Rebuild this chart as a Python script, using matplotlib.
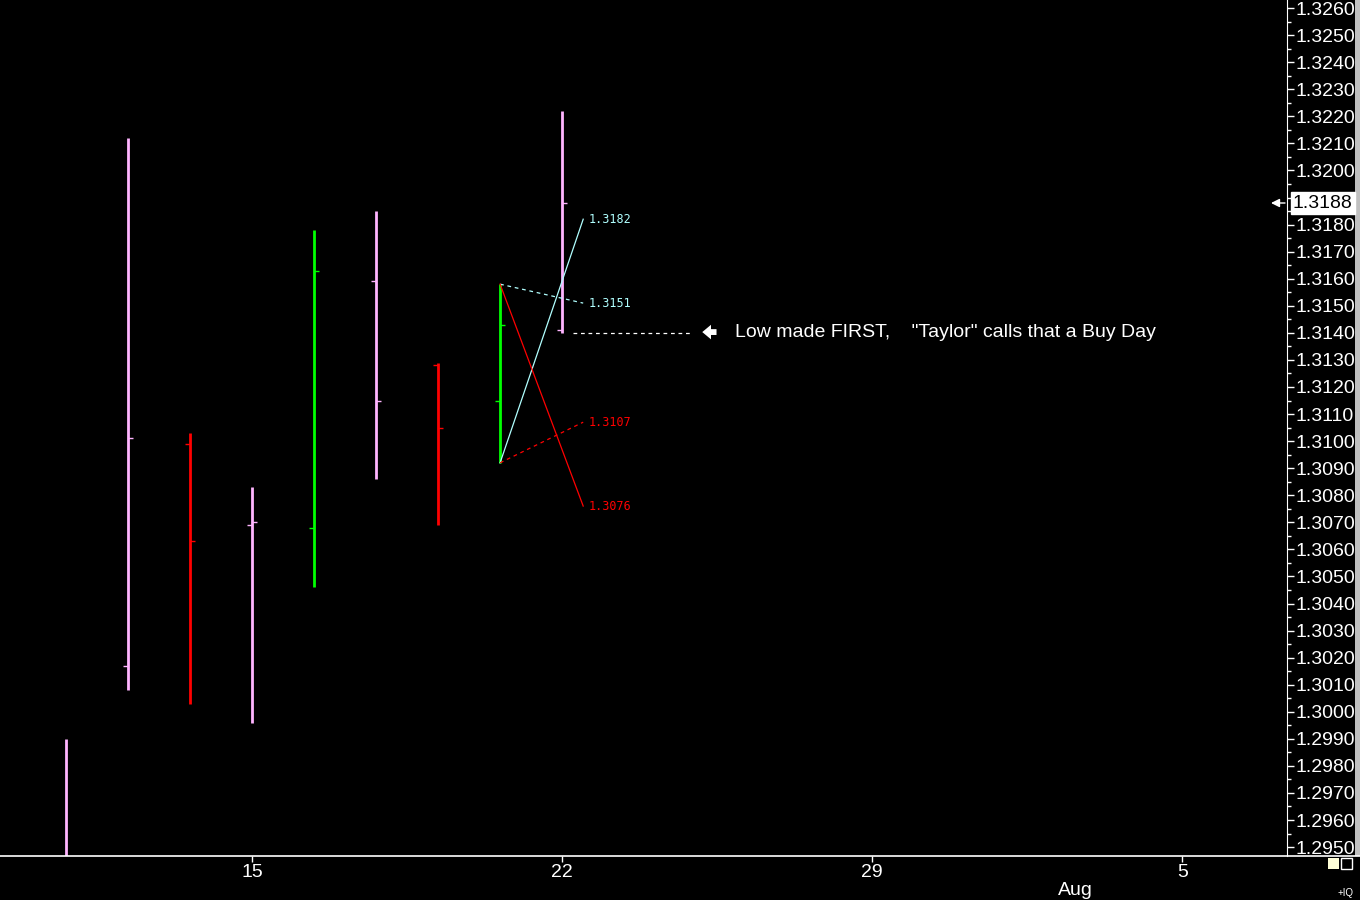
import numpy as np
import matplotlib
matplotlib.use("Agg")
import matplotlib.pyplot as plt
from matplotlib.patches import Rectangle, FancyArrowPatch
from matplotlib.lines import Line2D
import matplotlib.transforms as mtransforms

plt.rcParams['font.family'] = ['Liberation Sans', 'DejaVu Sans']

# daily bars, one per trading day (index 0 = Jul 10)
days = ['Jul 10', 'Jul 11', 'Jul 12', 'Jul 15', 'Jul 16', 'Jul 17', 'Jul 18', 'Jul 19', 'Jul 22']
opens = [1.2925, 1.3017, 1.3099, 1.3069, 1.3068, 1.3159, 1.3128, 1.3115, 1.3141]
highs = [1.2990, 1.3212, 1.3103, 1.3083, 1.3178, 1.3185, 1.3129, 1.3158, 1.3222]
lows = [1.2900, 1.3008, 1.3003, 1.2996, 1.3046, 1.3086, 1.3069, 1.3092, 1.3140]
closes = [1.2935, 1.3101, 1.3063, 1.3070, 1.3163, 1.3115, 1.3105, 1.3143, 1.3188]
bar_colors = ['#ffb4ff', '#ffb4ff', '#ff0000', '#ffb4ff', '#00ff00',
              '#ffb4ff', '#ff0000', '#00ff00', '#ffb4ff']

# projections drawn from the Jul 19 bar
proj_values = [1.3182, 1.3151, 1.3107, 1.3076]
proj_from = ['low', 'high', 'low', 'high']
proj_colors = ['#b0ffff', '#b0ffff', '#ff0000', '#ff0000']
proj_styles = ['-', (0, (3, 3)), (0, (3, 3)), '-']

xtick_pos = [3, 8, 13, 18]
xtick_labels = ['15', '22', '29', '5']
last_price = 1.3188

fig = plt.figure(figsize=(13.6, 9.0), dpi=100, facecolor='black')
ax = fig.add_axes([0.0, 44 / 900, 1287 / 1360, 856 / 900])
ax.set_facecolor('black')

x = np.arange(len(days))
ax.vlines(x, lows, highs, colors=bar_colors, lw=2)
ax.hlines(opens, x - 0.085, x, colors=bar_colors, lw=1)
ax.hlines(closes, x, x + 0.085, colors=bar_colors, lw=1)

# projection lines off the inside bar
src = 7
tx = 8.34
for val, frm, col, ls in zip(proj_values, proj_from, proj_colors, proj_styles):
    y0 = highs[src] if frm == 'high' else lows[src]
    ax.plot([src, tx], [y0, val], color=col, lw=0.9, ls=ls)
    ax.text(tx + 0.08, val, '%.4f' % val, color=col, fontsize=8.5,
            family='DejaVu Sans Mono', va='center', ha='left')

# low of the last bar
ax.plot([8.18, 10.06], [lows[8], lows[8]], color='white', lw=0.9, ls=(0, (3, 3)))
ax.annotate('', xy=(10.26, lows[8] + 0.00003), xytext=(10.49, lows[8] + 0.00003),
            arrowprops=dict(arrowstyle='simple,head_width=0.75,head_length=0.45,tail_width=0.3',
                            color='white', lw=0, mutation_scale=14,
                            shrinkA=0, shrinkB=0))
ax.text(10.79, lows[8] + 0.00003, 'Low made FIRST,    "Taylor" calls that a Buy Day',
        color='white', fontsize=14, va='center', ha='left')

ax.set_xlim(-1.065, 19.69)
ax.set_ylim(1.29467, 1.32630)

for s in ['left', 'top', 'bottom']:
    ax.spines[s].set_visible(False)
ax.spines['right'].set_color('white')

ax.yaxis.tick_right()
yt = np.round(np.arange(1.2950, 1.32605, 0.001), 4)
ax.set_yticks(yt)
# the 1.3190 label sits under the last-price box
ax.set_yticklabels(['' if abs(v - 1.3190) < 1e-6 else '%.4f' % v for v in yt])
ax.set_yticks(np.round(np.arange(1.2950, 1.3263, 0.0005), 4), minor=True)
ax.tick_params(axis='y', which='major', direction='out', length=5, width=1,
               colors='white', labelsize=14, pad=1)
ax.tick_params(axis='y', which='minor', direction='out', length=3, width=1, colors='white')

ax.set_xticks(xtick_pos)
ax.set_xticklabels(xtick_labels)
ax.tick_params(axis='x', direction='out', length=4, width=1, colors='white',
               labelsize=14, pad=2)
trans = mtransforms.blended_transform_factory(ax.transData, ax.transAxes)
ax.text(16.27, -0.04, 'Aug', color='white', fontsize=14, ha='center', va='center',
        transform=trans)

# bottom line across the whole width
fig.add_artist(Line2D([0, 1], [44 / 900, 44 / 900], color='white', lw=1.2))
# right grey edge
fig.add_artist(Rectangle((1355 / 1360, 44 / 900), 5 / 1360, 856 / 900,
                         facecolor='#c0c0c0', edgecolor='none'))

# last price marker
fig.text(1293 / 1360, (900 - 203) / 900, '%.4f' % last_price, color='black',
         fontsize=14, va='center', ha='left', zorder=10,
         bbox=dict(boxstyle='square,pad=0.12', facecolor='white', edgecolor='white'))
fig.add_artist(FancyArrowPatch(
    (1285 / 1360, (900 - 203) / 900), (1271 / 1360, (900 - 203) / 900),
    transform=fig.transFigure, arrowstyle='-|>,head_width=0.25,head_length=0.5',
    color='white', lw=1, mutation_scale=10, shrinkA=0, shrinkB=0))

# corner boxes
fig.add_artist(Rectangle((1328 / 1360, (900 - 869) / 900), 11 / 1360, 11 / 900,
                         facecolor='#ffffd8', edgecolor='none'))
fig.add_artist(Rectangle((1341 / 1360, (900 - 869) / 900), 11 / 1360, 11 / 900,
                         facecolor='black', edgecolor='white', lw=1))
fig.text(1354 / 1360, 2 / 900, '+IQ', color='white', fontsize=7, ha='right', va='bottom')

fig.savefig('out.png', dpi=100, facecolor='black')
